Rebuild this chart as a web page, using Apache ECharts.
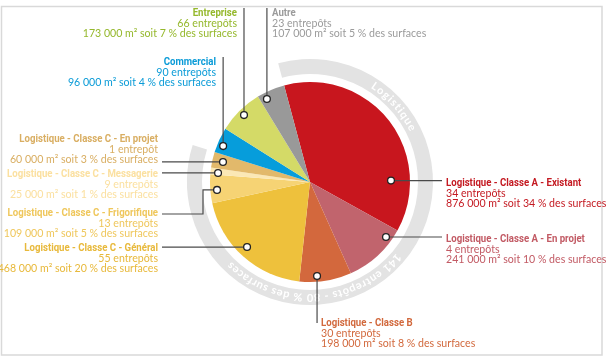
<!DOCTYPE html>
<html><head><meta charset="utf-8">
<script src="https://cdn.jsdelivr.net/npm/echarts@6/dist/echarts.min.js"></script>
<style>html,body{margin:0;padding:0;background:#fff}#c{width:609px;height:362px}</style>
</head><body><div id="c"></div>
<script>
// ---- data ----
const categories = [
  'Logistique - Classe A - Existant',
  'Logistique - Classe A - En projet',
  'Logistique - Classe B',
  'Logistique - Classe C - Général',
  'Logistique - Classe C - Frigorifique',
  'Logistique - Classe C - Messagerie',
  'Logistique - Classe C - En projet',
  'Commercial',
  'Entreprise',
  'Autre'
];
const surfaces = [876000, 241000, 198000, 468000, 109000, 25000, 60000, 96000, 173000, 107000];
const warehouses = [34, 4, 30, 55, 13, 9, 1, 90, 66, 23];
const shares = [34, 10, 8, 20, 5, 1, 3, 4, 7, 5];
const logisticsCount = 7; // first 7 categories belong to "Logistique"
const ringTitle = 'Logistique';
const ringSubtitle = '141 entrepôts - 80 % des surfaces';

// ---- styles ----
const sliceColors = ['#c8161e', '#c1646d', '#d3683d', '#eec13c', '#f6d374', '#fbe8b5', '#e2b96b', '#069ddb', '#d4da67', '#999999'];
const textColors  = ['#c41a22', '#c25a64', '#d2693d', '#e8b93b', '#efc75c', '#fbe0a0', '#d9ae62', '#0a9bd7', '#95b82c', '#9b9b9b'];

const CX = 310, CY = 182, R = 100, START = -15; // START: clockwise degrees from 12 o'clock
const TITLE_FONT = 'bold 11.2px Roboto, "Liberation Sans", sans-serif';
const TITLE_SCALE = 0.86;
const BODY_FONT = 'Lato, "Liberation Sans", sans-serif';
const BODY_SIZE = 10.6;
const LH = 10.5;

// per-slice callout layout: t = position inside slice (0..1), rf = radius fraction,
// lx / ty = label anchor x and title centre y, leader type
const callouts = [
  {t: 0.776, rf: 0.81,  lx: 446, ty: 183, align: 'left',  leader: 'h', ex: 442},
  {t: 0.186, rf: 0.938, lx: 446, ty: 239, align: 'left',  leader: 'h', ex: 442},
  {t: 0.654, rf: 0.943, lx: 321, ty: 323, align: 'left',  leader: 'v', ey: 323},
  {t: 0.529, rf: 0.905, lx: 158, ty: 248, align: 'right', leader: 'h', ex: 162},
  {t: 0.44,  rf: 0.933, lx: 158, ty: 213, align: 'right', leader: 'elbow', ex: 203, ey: 214, ex2: 162},
  {t: 0.30,  rf: 0.924, lx: 158, ty: 174, align: 'right', leader: 'h', ex: 162},
  {t: 0.51,  rf: 0.893, lx: 158, ty: 139, align: 'right', leader: 'h', ex: 162},
  {t: 0.34,  rf: 0.94,  lx: 216, ty: 62,  align: 'right', leader: 'v', ey: 57},
  {t: 0.50,  rf: 0.94,  lx: 237, ty: 13,  align: 'right', leader: 'v', ey: 8},
  {t: 0.24,  rf: 0.935, lx: 272, ty: 13,  align: 'left',  leader: 'v', ey: 8}
];

function fmt(n) { return String(n).replace(/\B(?=(\d{3})+(?!\d))/g, ' '); }
function polar(deg, rr) { const a = deg * Math.PI / 180; return [CX + rr * Math.sin(a), CY - rr * Math.cos(a)]; }

const total = surfaces.reduce((a, b) => a + b, 0);
const logSum = surfaces.slice(0, logisticsCount).reduce((a, b) => a + b, 0);

// slice angular extents (derived from data)
const spans = [];
let acc = START;
surfaces.forEach(v => { const d = v / total * 360; spans.push([acc, acc + d]); acc += d; });

const rich = {};
textColors.forEach((c, i) => {
  rich['b' + i] = {fontFamily: BODY_FONT, fontSize: BODY_SIZE, color: c, lineHeight: LH};
});

const pieData = categories.map((name, i) => ({
  name, value: surfaces[i],
  itemStyle: {color: sliceColors[i]},
  label: {
    formatter: '{b' + i + '|' + warehouses[i] + (warehouses[i] > 1 ? ' entrepôts' : ' entrepôt') + '}\n{b' + i + '|' + fmt(surfaces[i]) + ' m² soit ' + shares[i] + ' % des surfaces}'
  }
}));

// graphic: frame, titles, leaders, dots, ring text
const graphics = [];
graphics.push({type: 'rect', z: 0, shape: {x: 1.5, y: 6.5, width: 600.5, height: 348.5}, style: {fill: 'none', stroke: '#d9d9d9', lineWidth: 1.5}, silent: true});

callouts.forEach((c, i) => {
  // condensed bold title
  graphics.push({type: 'text', z: 12, x: c.lx, y: c.ty, scaleX: TITLE_SCALE, silent: true,
    style: {text: categories[i], x: 0, y: 0, font: TITLE_FONT, fill: textColors[i], align: c.align, verticalAlign: 'middle', textAlign: c.align, textVerticalAlign: 'middle'}});
  const s = spans[i];
  const ang = s[0] + (s[1] - s[0]) * c.t;
  const p = polar(ang, R * c.rf);
  let pts;
  if (c.leader === 'h') pts = [p, [c.ex, p[1]]];
  else if (c.leader === 'v') pts = [p, [p[0], c.ey]];
  else pts = [p, [c.ex, p[1]], [c.ex, c.ey], [c.ex2, c.ey]];
  graphics.push({type: 'polyline', z: 10, shape: {points: pts}, style: {stroke: '#4a4a4a', lineWidth: 1.2, fill: null}, silent: true});
  graphics.push({type: 'circle', z: 11, shape: {cx: p[0], cy: p[1], r: 3.4}, style: {fill: '#fff', stroke: '#222', lineWidth: 1.3}, silent: true});
});

// text along ring
const RING_IN = 108, RING_OUT = 123, RT = (RING_IN + RING_OUT) / 2;
const ringFont = 'bold 11px Lato, "Liberation Sans", sans-serif';
const mctx = document.createElement('canvas').getContext('2d');
mctx.font = ringFont;
function arcText(str, centerDeg, spacing) {
  const ws = [...str].map(ch => mctx.measureText(ch).width + spacing);
  const W = ws.reduce((a, b) => a + b, 0);
  let cur = centerDeg * Math.PI / 180 - W / RT / 2;
  [...str].forEach((ch, k) => {
    const mid = cur + ws[k] / 2 / RT;
    cur += ws[k] / RT;
    if (ch === ' ') return;
    const deg = mid * 180 / Math.PI;
    const p = polar(deg, RT);
    graphics.push({type: 'text', z: 5, x: p[0], y: p[1], rotation: -mid, silent: true,
      style: {text: ch, x: 0, y: 0, font: ringFont, fill: '#ffffff', align: 'center', verticalAlign: 'middle', textAlign: 'center', textVerticalAlign: 'middle'}});
  });
}
arcText(ringTitle, 48, 1.2);
arcText(ringSubtitle, 177, 0.8);

const chart = echarts.init(document.getElementById('c'), null, {renderer: 'canvas'});
chart.setOption({
  animation: false,
  backgroundColor: '#ffffff',
  series: [
    {
      type: 'pie', z: 1, silent: true,
      center: [CX, CY], radius: [RING_IN, RING_OUT],
      startAngle: 90 - START, clockwise: true,
      label: {show: false}, labelLine: {show: false},
      data: [
        {name: ringTitle, value: logSum, itemStyle: {color: '#e3e3e3'}},
        {name: 'autres', value: total - logSum, itemStyle: {color: 'rgba(0,0,0,0)'}}
      ]
    },
    {
      type: 'pie', z: 2, silent: true,
      center: [CX, CY], radius: R,
      startAngle: 90 - START, clockwise: true,
      avoidLabelOverlap: false,
      itemStyle: {borderWidth: 0},
      label: {show: true, position: 'outside', rich},
      labelLine: {show: false},
      labelLayout: function (params) {
        const c = callouts[params.dataIndex];
        return {x: c.lx, y: c.ty + LH / 2, align: c.align, verticalAlign: 'top'};
      },
      data: pieData
    }
  ],
  graphic: {elements: graphics}
});
</script></body></html>
